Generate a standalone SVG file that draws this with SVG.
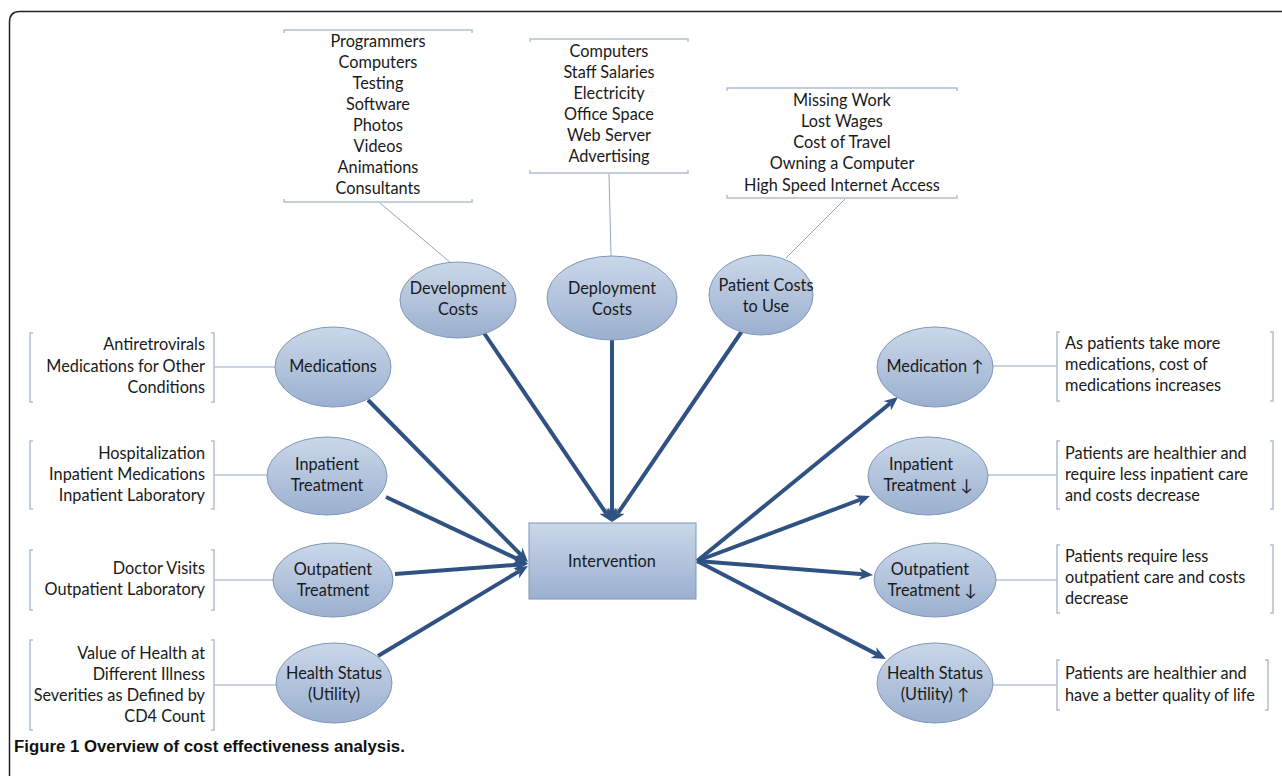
<svg xmlns="http://www.w3.org/2000/svg" width="1282" height="776" viewBox="0 0 1282 776">
<defs>
<linearGradient id="g" x1="0" y1="0" x2="0" y2="1">
<stop offset="0" stop-color="#cad7e9"/>
<stop offset="1" stop-color="#9bb0cf"/>
</linearGradient>
<marker id="ah" viewBox="0 0 14 12" markerWidth="14" markerHeight="12" refX="4" refY="6" orient="auto" markerUnits="userSpaceOnUse">
<path d="M0,0 L14,6 L0,12 L4,6 Z" fill="#2f5283"/>
</marker>
</defs>
<style>
text{font-family:Lato,"Open Sans","Liberation Sans",sans-serif;font-size:16.3px;fill:#1a1a1a}
.c{text-anchor:middle}
.r{text-anchor:end}
.l{text-anchor:start}
.nd{fill:url(#g);stroke:#7f96b8;stroke-width:1}
.br{fill:none;stroke:#b3bfd0;stroke-width:1.5}
.ln{fill:none;stroke:#93a6c4;stroke-width:1}
.ar{fill:none;stroke:#2f5283;stroke-width:4;marker-end:url(#ah)}
.cap{font-family:"Liberation Sans",Arial,sans-serif;font-weight:bold;font-size:16.8px;fill:#111}
</style>
<rect width="1282" height="776" fill="#fff"/>
<path d="M9.5 776 L9.5 22 Q9.5 11.5 20 11.5 L1282 11.5" fill="none" stroke="#222" stroke-width="1.5"/>

<g id="connectors">
<line class="ln" x1="380" y1="203" x2="451" y2="263"/>
<line class="ln" x1="609" y1="174" x2="611" y2="256"/>
<line class="ln" x1="845" y1="199" x2="786" y2="258"/>
<line class="ln" x1="214" y1="367" x2="275" y2="367"/>
<line class="ln" x1="214" y1="475" x2="267" y2="475"/>
<line class="ln" x1="214" y1="580" x2="273" y2="580"/>
<line class="ln" x1="214" y1="685" x2="276" y2="685"/>
<line class="ln" x1="993" y1="366" x2="1057" y2="366"/>
<line class="ln" x1="988" y1="475" x2="1057" y2="475"/>
<line class="ln" x1="995" y1="580" x2="1057" y2="580"/>
<line class="ln" x1="993" y1="685" x2="1057" y2="685"/>
<path class="ar" d="M484 333 L606.4 513.7"/>
<path class="ar" d="M612 340 L612 512"/>
<path class="ar" d="M742 331 L617.6 513.7"/>
<path class="ar" d="M368 400 L521 554.9"/>
<path class="ar" d="M386 497 L519 559.7"/>
<path class="ar" d="M395 574 L518 564.7"/>
<path class="ar" d="M378 656 L519.4 571.1"/>
<path class="ar" d="M697 561 L890.3 403.3"/>
<path class="ar" d="M697 561 L860.6 499.5"/>
<path class="ar" d="M697 561 L863 574.2"/>
<path class="ar" d="M697 561 L877.1 654.4"/>
</g>

<g id="dev-items">
<path class="br" d="M284 33 L284 30 L472 30 L472 33"/>
<path class="br" d="M284 199 L284 202 L472 202 L472 199"/>
<text class="c" x="378" y="47">Programmers</text>
<text class="c" x="378" y="68">Computers</text>
<text class="c" x="378" y="89">Testing</text>
<text class="c" x="378" y="110">Software</text>
<text class="c" x="378" y="131">Photos</text>
<text class="c" x="378" y="152">Videos</text>
<text class="c" x="378" y="173">Animations</text>
<text class="c" x="378" y="194">Consultants</text>
</g>
<g id="dep-items">
<path class="br" d="M530 42 L530 39 L688 39 L688 42"/>
<path class="br" d="M530 170 L530 173 L688 173 L688 170"/>
<text class="c" x="609" y="57">Computers</text>
<text class="c" x="609" y="78">Staff Salaries</text>
<text class="c" x="609" y="99">Electricity</text>
<text class="c" x="609" y="120">Office Space</text>
<text class="c" x="609" y="141">Web Server</text>
<text class="c" x="609" y="162">Advertising</text>
</g>
<g id="patient-items">
<path class="br" d="M727 91 L727 88 L957 88 L957 91"/>
<path class="br" d="M727 195 L727 198 L957 198 L957 195"/>
<text class="c" x="842" y="106">Missing Work</text>
<text class="c" x="842" y="127">Lost Wages</text>
<text class="c" x="842" y="148">Cost of Travel</text>
<text class="c" x="842" y="169">Owning a Computer</text>
<text class="c" x="842" y="191">High Speed Internet Access</text>
</g>

<g id="development-costs">
<ellipse class="nd" cx="458" cy="300" rx="58" ry="38"/>
<text class="c" x="458" y="294">Development</text>
<text class="c" x="458" y="315">Costs</text>
</g>
<g id="deployment-costs">
<ellipse class="nd" cx="612" cy="298" rx="65" ry="42"/>
<text class="c" x="612" y="294">Deployment</text>
<text class="c" x="612" y="315">Costs</text>
</g>
<g id="patient-costs">
<ellipse class="nd" cx="761" cy="295" rx="52" ry="40"/>
<text class="c" x="766" y="291">Patient Costs</text>
<text class="c" x="766" y="312">to Use</text>
</g>

<g id="med-items">
<path class="br" d="M33 333 L30 333 L30 402 L33 402"/>
<path class="br" d="M211 333 L214 333 L214 402 L211 402"/>
<text class="r" x="205" y="350">Antiretrovirals</text>
<text class="r" x="205" y="372">Medications for Other</text>
<text class="r" x="205" y="393">Conditions</text>
</g>
<g id="inp-items">
<path class="br" d="M33 441 L30 441 L30 509 L33 509"/>
<path class="br" d="M211 441 L214 441 L214 509 L211 509"/>
<text class="r" x="205" y="459">Hospitalization</text>
<text class="r" x="205" y="480">Inpatient Medications</text>
<text class="r" x="205" y="501">Inpatient Laboratory</text>
</g>
<g id="outp-items">
<path class="br" d="M33 550 L30 550 L30 610 L33 610"/>
<path class="br" d="M211 550 L214 550 L214 610 L211 610"/>
<text class="r" x="205" y="574">Doctor Visits</text>
<text class="r" x="205" y="595">Outpatient Laboratory</text>
</g>
<g id="health-items">
<path class="br" d="M33 640 L30 640 L30 730 L33 730"/>
<path class="br" d="M211 640 L214 640 L214 730 L211 730"/>
<text class="r" x="205" y="659">Value of Health at</text>
<text class="r" x="205" y="680">Different Illness</text>
<text class="r" x="205" y="701">Severities as Defined by</text>
<text class="r" x="205" y="722">CD4 Count</text>
</g>

<g id="medications">
<ellipse class="nd" cx="333" cy="367" rx="58" ry="40"/>
<text class="c" x="333" y="372">Medications</text>
</g>
<g id="inpatient-treatment">
<ellipse class="nd" cx="327" cy="476" rx="60" ry="39"/>
<text class="c" x="327" y="470">Inpatient</text>
<text class="c" x="327" y="491">Treatment</text>
</g>
<g id="outpatient-treatment">
<ellipse class="nd" cx="333" cy="580" rx="60" ry="37"/>
<text class="c" x="333" y="575">Outpatient</text>
<text class="c" x="333" y="596">Treatment</text>
</g>
<g id="health-status">
<ellipse class="nd" cx="334" cy="683" rx="58" ry="40"/>
<text class="c" x="334" y="679">Health Status</text>
<text class="c" x="334" y="700">(Utility)</text>
</g>

<g id="intervention">
<rect class="nd" x="529" y="523" width="167" height="76"/>
<text class="c" x="612" y="567">Intervention</text>
</g>

<g id="medication-up">
<ellipse class="nd" cx="935" cy="367" rx="58" ry="40"/>
<text class="c" x="935" y="372">Medication ↑</text>
</g>
<g id="inpatient-down">
<ellipse class="nd" cx="928" cy="476" rx="60" ry="39"/>
<text class="c" x="921" y="470">Inpatient</text>
<text class="c" x="928" y="491">Treatment ↓</text>
</g>
<g id="outpatient-down">
<ellipse class="nd" cx="935" cy="580" rx="61" ry="37"/>
<text class="c" x="930" y="575">Outpatient</text>
<text class="c" x="932" y="596">Treatment  ↓</text>
</g>
<g id="health-up">
<ellipse class="nd" cx="935" cy="683" rx="58" ry="40"/>
<text class="c" x="935" y="679">Health Status</text>
<text class="c" x="935" y="700">(Utility) ↑</text>
</g>

<g id="med-effect">
<path class="br" d="M1060 332 L1057 332 L1057 401 L1060 401"/>
<path class="br" d="M1270 332 L1273 332 L1273 401 L1270 401"/>
<text class="l" x="1065" y="349">As patients take more</text>
<text class="l" x="1065" y="370">medications, cost of</text>
<text class="l" x="1065" y="391">medications increases</text>
</g>
<g id="inp-effect">
<path class="br" d="M1060 441 L1057 441 L1057 509 L1060 509"/>
<path class="br" d="M1270 441 L1273 441 L1273 509 L1270 509"/>
<text class="l" x="1065" y="459">Patients are healthier and</text>
<text class="l" x="1065" y="480">require less inpatient care</text>
<text class="l" x="1065" y="501">and costs decrease</text>
</g>
<g id="outp-effect">
<path class="br" d="M1060 545 L1057 545 L1057 613 L1060 613"/>
<path class="br" d="M1270 545 L1273 545 L1273 613 L1270 613"/>
<text class="l" x="1065" y="562">Patients require less</text>
<text class="l" x="1065" y="583">outpatient care and costs</text>
<text class="l" x="1065" y="604">decrease</text>
</g>
<g id="health-effect">
<path class="br" d="M1060 660 L1057 660 L1057 710 L1060 710"/>
<path class="br" d="M1265 660 L1268 660 L1268 710 L1265 710"/>
<text class="l" x="1065" y="679">Patients are healthier and</text>
<text class="l" x="1065" y="701">have a better quality of life</text>
</g>

<text class="cap" x="14" y="752">Figure 1 Overview of cost effectiveness analysis.</text>
</svg>
